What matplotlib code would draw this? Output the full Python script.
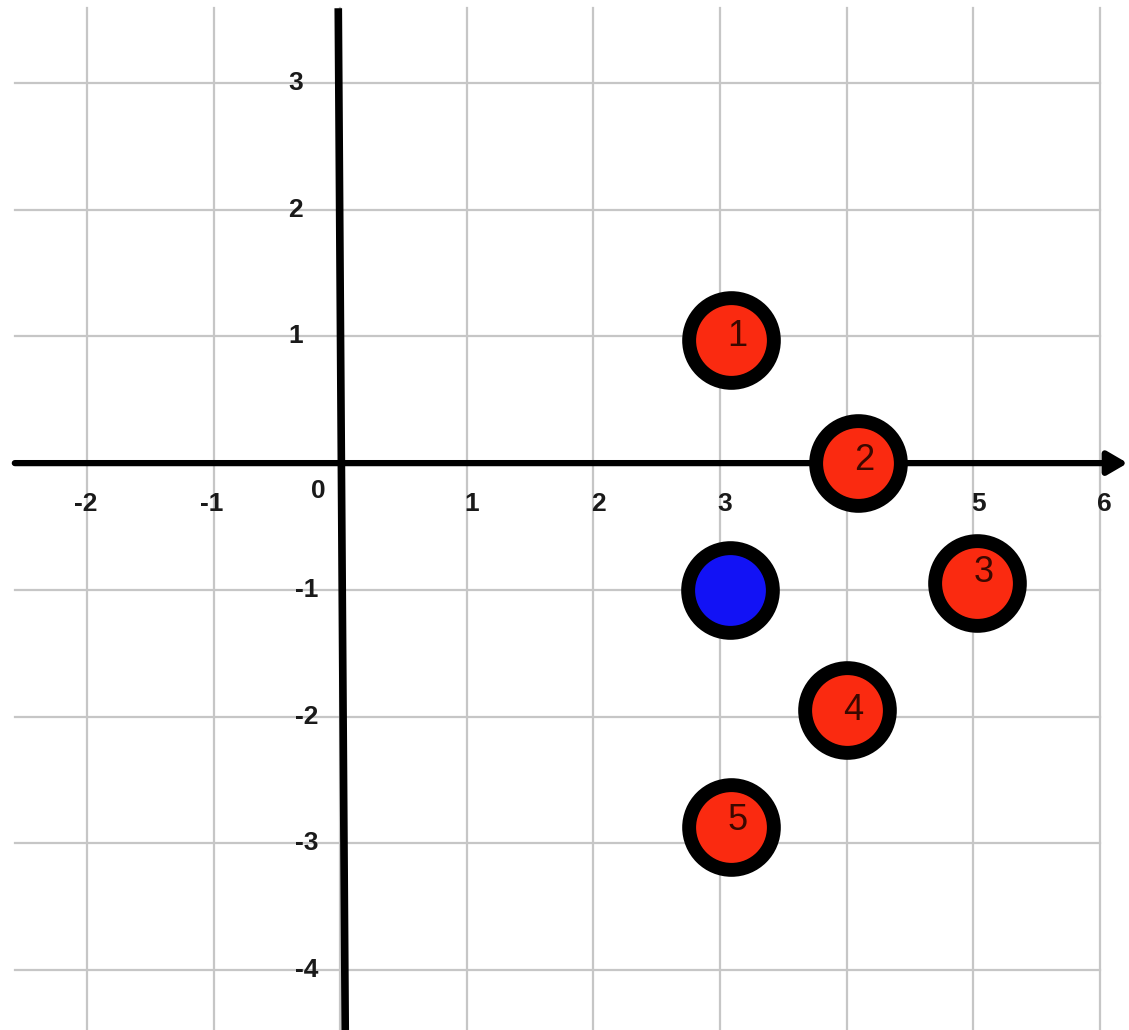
"""
Plano cartesiano con puntos vecinos numerados y un punto de consulta.
"""

import matplotlib.pyplot as plt

# --- datos ---
x_ticks = [-2, -1, 0, 1, 2, 3, 4, 5, 6]
y_ticks = [-4, -3, -2, -1, 1, 2, 3]
x_labels = ["-2", "-1", "0", "1", "2", "3", "", "5", "6"]
y_labels = ["-4", "-3", "-2", "-1", "1", "2", "3"]

red_x = [3.09, 4.09, 5.03, 4.0, 3.09]
red_y = [0.97, 0.0, -0.95, -1.95, -2.87]
red_names = ["1", "2", "3", "4", "5"]

query_x = [3.08]
query_y = [-1.0]

GRID_C = "#c6c6c6"
RED = "#fa2a10"
BLUE = "#1212f5"
LABEL_C = "#3a0800"

fig = plt.figure(figsize=(11.29, 10.30), dpi=100)
ax = fig.add_axes([0, 0, 1, 1])
ax.set_xlim(-2.687, 6.231)
ax.set_ylim(-4.474, 3.655)
ax.axis("off")

# cuadricula
for xv in x_ticks:
    ax.plot([xv, xv], [-4.474, 3.59], color=GRID_C, lw=1.6, zorder=1)
for yv in y_ticks:
    ax.plot([-2.57, 6.0], [yv, yv], color=GRID_C, lw=1.6, zorder=1)

# ejes
ax.annotate("", xy=(6.22, 0), xytext=(-2.57, 0),
            arrowprops=dict(arrowstyle="-|>,head_length=0.6,head_width=0.35",
                            lw=4.5, color="black", mutation_scale=20,
                            shrinkA=0, shrinkB=0), zorder=2)
ax.plot([-0.015, 0.04], [3.59, -4.474], color="black", lw=5.5, zorder=2,
        solid_capstyle="butt")

# etiquetas de los ejes
tick_font = dict(family="Liberation Sans", fontsize=19, fontweight="bold",
                 color="#1a1a1a")
for xv, lab in zip(x_ticks, x_labels):
    if not lab:
        continue
    if xv == 0:
        ax.text(-0.17, -0.22, lab, ha="center", va="center", **tick_font)
    elif xv < 0:
        ax.text(xv + 0.08, -0.32, lab, ha="right", va="center", **tick_font)
    else:
        ax.text(xv + 0.04, -0.32, lab, ha="center", va="center", **tick_font)
for yv, lab in zip(y_ticks, y_labels):
    if yv < 0:
        ax.text(-0.17, yv, lab, ha="right", va="center", **tick_font)
    else:
        ax.text(-0.35, yv, lab, ha="center", va="center", **tick_font)

# puntos
ax.plot(red_x, red_y, "o", ms=61, mfc=RED, mec="black", mew=10,
        ls="none", zorder=3)
ax.plot(query_x, query_y, "o", ms=61, mfc=BLUE, mec="black", mew=10,
        ls="none", zorder=3)

label_dy = [0.03, 0.02, 0.09, 0.0, 0.05]
for xv, yv, name, dy in zip(red_x, red_y, red_names, label_dy):
    ax.text(xv + 0.05, yv + dy, name, ha="center", va="center",
            family="Liberation Sans", fontsize=26, color=LABEL_C, zorder=4)

fig.savefig("out.png", dpi=100, facecolor="white")
